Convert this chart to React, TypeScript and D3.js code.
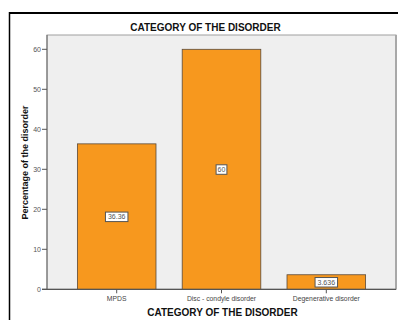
import React from "react";
import * as d3 from "d3";

// Chart data
const categories: string[] = ["MPDS", "Disc - condyle disorder", "Degenerative disorder"];
const percentages: number[] = [36.36, 60, 3.636];
const valueLabels: string[] = ["36.36", "60", "3.636"];
const yTicks: number[] = [0, 10, 20, 30, 40, 50, 60];

const W = 398;
const H = 320;
const plot = { left: 47, right: 396, top: 35, bottom: 289.3 };
const FONT = "'Liberation Sans', Arial, sans-serif";

export default function App() {
  const x = d3
    .scaleBand<string>()
    .domain(categories)
    .range([plot.left, plot.right])
    .paddingInner(0.25)
    .paddingOuter(0.29);
  const y = d3.scaleLinear().domain([0, 60]).range([plot.bottom, 49.3]);

  return (
    <svg
      width={W}
      height={H}
      style={{ position: "absolute", left: 0, top: 0, background: "#fff" }}
      fontFamily={FONT}
    >
      {/* outer frame */}
      <line x1={9.5} x2={398} y1={13} y2={13} stroke="#000" strokeWidth={2} />
      <line x1={9.5} x2={9.5} y1={12} y2={H} stroke="#000" strokeWidth={1.5} />

      <text x={205.5} y={30.8} textAnchor="middle" fontSize={10} fontWeight="bold" fill="#111">
        CATEGORY OF THE DISORDER
      </text>

      {/* plot area */}
      <rect
        x={plot.left}
        y={plot.top}
        width={plot.right - plot.left}
        height={plot.bottom - plot.top}
        fill="#efefef"
        stroke="#a0a0a0"
        strokeWidth={1}
      />
      <line x1={plot.right} x2={plot.right} y1={plot.top} y2={plot.bottom} stroke="#a8a8a8" strokeWidth={2} />

      {/* bars */}
      {categories.map((c, i) => (
        <rect
          key={c}
          x={x(c)!}
          y={y(percentages[i])}
          width={x.bandwidth()}
          height={y(0) - y(percentages[i])}
          fill="#f7981e"
          stroke="#5a4a3a"
          strokeWidth={0.8}
        />
      ))}

      {/* y axis */}
      <line x1={plot.left} x2={plot.left} y1={plot.top} y2={plot.bottom} stroke="#666" strokeWidth={1} />
      {yTicks.map((t) => (
        <g key={t}>
          <line x1={42} x2={plot.left} y1={y(t)} y2={y(t)} stroke="#555" strokeWidth={1} />
          <text x={41} y={y(t) + 2.5} textAnchor="end" fontSize={7} fill="#555">
            {t}
          </text>
        </g>
      ))}

      {/* x axis */}
      <line x1={plot.left - 5} x2={plot.right} y1={plot.bottom} y2={plot.bottom} stroke="#555" strokeWidth={1.2} />
      {categories.map((c) => {
        const cx = x(c)! + x.bandwidth() / 2;
        return (
          <g key={c}>
            <line x1={cx} x2={cx} y1={plot.bottom} y2={plot.bottom + 4} stroke="#555" strokeWidth={1} />
            <text x={cx} y={300.5} textAnchor="middle" fontSize={6.8} fill="#444">
              {c}
            </text>
          </g>
        );
      })}

      {/* value labels */}
      {categories.map((c, i) => {
        const cx = x(c)! + x.bandwidth() / 2;
        const cy = y(percentages[i] / 2);
        const w = valueLabels[i].length * 3.9 + 3;
        return (
          <g key={c}>
            <rect x={cx - w / 2} y={cy - 4.5} width={w} height={9.5} fill="#fff" stroke="#555" strokeWidth={1} />
            <text x={cx} y={cy + 2.6} textAnchor="middle" fontSize={7} fill="#555">
              {valueLabels[i]}
            </text>
          </g>
        );
      })}

      {/* axis titles */}
      <text x={222.5} y={316} textAnchor="middle" fontSize={10} fontWeight="bold" fill="#111">
        CATEGORY OF THE DISORDER
      </text>
      <text
        transform={`translate(27.5, 162.5) rotate(-90)`}
        textAnchor="middle"
        fontSize={9}
        fontWeight="bold"
        fill="#111"
      >
        Percentage of the disorder
      </text>
    </svg>
  );
}
